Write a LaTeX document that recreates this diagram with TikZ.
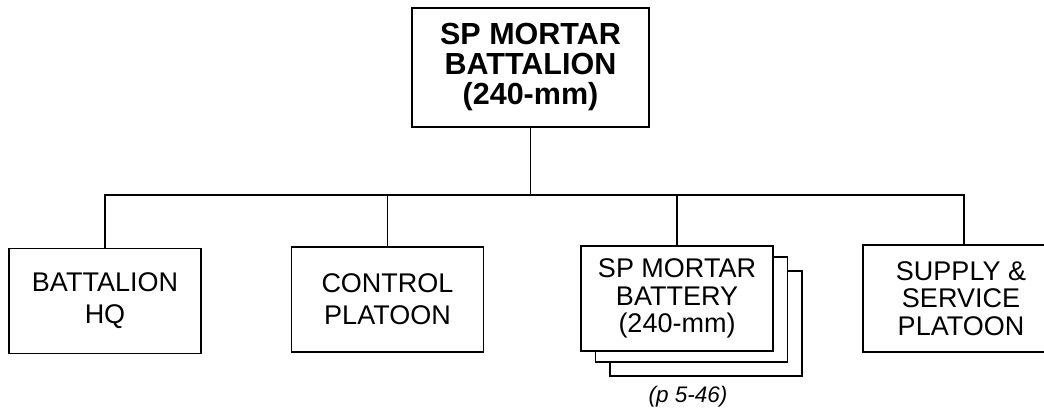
\documentclass[tikz,border=0pt]{standalone}
\usepackage{fontspec}
\setmainfont{Liberation Sans}
\begin{document}
\begin{tikzpicture}[x=1pt,y=-1pt,
  box/.style={draw,line width=1.6pt,fill=white,inner sep=0pt,align=center},
  topbox/.style={box,minimum width=237pt,minimum height=119pt,font=\fontsize{30.5}{30}\selectfont\bfseries},
  unitbox/.style={box,minimum width=192pt,minimum height=105pt,font=\fontsize{27}{32}\selectfont},
  unitboxiii/.style={box,minimum width=192pt,minimum height=105pt,font=\fontsize{27}{27.5}\selectfont},
  conn/.style={line width=1.6pt}]
\useasboundingbox (0,0) rectangle (1044,409);
\node[topbox] (top) at (530.5,67.5) {SP MORTAR\\BATTALION\\(240-mm)};
\node[unitbox] (hq) at (105,301) {BATTALION\\HQ};
\node[unitbox] (ctl) at (387.5,299.5) {CONTROL\\PLATOON};
\node[unitboxiii] (bat3) at (706,323.5) {};
\node[unitboxiii] (bat2) at (691.5,309.5) {};
\node[unitboxiii] (bat) at (677,298.5) {SP MORTAR\\BATTERY\\(240-mm)};
\node[unitboxiii, draw=none, minimum width=180pt] (sup) at (954,298.5) {};
\node[font=\fontsize{27}{27.5}\selectfont, align=center] (suptext) at (961,298.5) {SUPPLY \&\\SERVICE\\PLATOON};
\draw[conn] (sup.north east) -- (sup.north west) -- (sup.south west) -- (sup.south east);
\node[font=\fontsize{22.5}{24}\selectfont\itshape] (ref) at (688,397) {(p 5-46)};
\coordinate (bus) at (top.south |- 0,195);
\coordinate (supdrop) at (964,0 |- sup.north);
\coordinate (busl) at (hq.north |- bus);
\coordinate (busr) at (supdrop |- bus);
\draw[conn] (top.south) -- (bus);
\draw[conn] (hq.north) -- (busl) -- (busr) -- (supdrop);
\draw[conn] (ctl.north) -- (ctl.north |- bus);
\draw[conn] (bat.north) -- (bat.north |- bus);
\end{tikzpicture}
\end{document}
